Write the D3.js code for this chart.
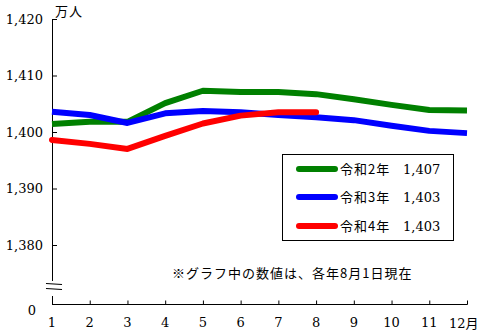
<!DOCTYPE html>
<html>
<head>
<meta charset="utf-8">
<script src="https://cdn.jsdelivr.net/npm/d3@7"></script>
<style>
  html, body { margin: 0; padding: 0; background: #fff; }
  svg { display: block; }
  text { font-family: "Noto Sans CJK JP", "DejaVu Sans", sans-serif; fill: #000; }
  text.num { font-family: "DejaVu Serif", "Liberation Serif", serif; }
</style>
</head>
<body>
<svg id="chart" width="484" height="333"></svg>
<script>
// Monthly population (万人), months 1–12
const months = [1, 2, 3, 4, 5, 6, 7, 8, 9, 10, 11, 12];
const reiwa2 = [1401.4, 1401.8, 1401.8, 1405.1, 1407.3, 1407.1, 1407.1, 1406.7, 1405.8, 1404.8, 1403.9, 1403.8];
const reiwa3 = [1403.6, 1403.0, 1401.6, 1403.3, 1403.7, 1403.5, 1403.0, 1402.6, 1402.1, 1401.1, 1400.2, 1399.8];
const reiwa4 = [1398.6, 1397.9, 1397.0, 1399.3, 1401.5, 1402.9, 1403.5, 1403.5];
const yTicks = [1380, 1390, 1400, 1410, 1420];
const seriesNames = ["令和2年", "令和3年", "令和4年"];
const seriesLabels = ["1,407", "1,403", "1,403"];
const seriesColors = ["#008000", "#0000ff", "#ff0000"];

const svg = d3.select("#chart");
const x = d3.scaleLinear().domain([1, 12]).range([52, 467]);
const y = d3.scaleLinear().domain([1380, 1420]).range([245, 19]);
const axisY0 = 304;

// Y axis (upper part), ticks pointing inward
const yAxis = d3.axisRight(y).tickValues(yTicks).tickSize(5).tickFormat("");
const gy = svg.append("g").attr("transform", "translate(52,0)").call(yAxis);
gy.select(".domain").remove();
gy.selectAll("line").attr("stroke", "#000");
svg.append("line").attr("x1", 52.5).attr("x2", 52.5).attr("y1", 19).attr("y2", 281).attr("stroke", "#000");
svg.append("line").attr("x1", 52.5).attr("x2", 52.5).attr("y1", 296).attr("y2", axisY0).attr("stroke", "#000");
// axis break mark
[284, 289].forEach(yy => {
  svg.append("line").attr("x1", 46).attr("x2", 62).attr("y1", yy - 0.5).attr("y2", yy + 0.5)
    .attr("stroke", "#000").attr("stroke-width", 1.2);
});

const fmt = d3.format(",");
svg.selectAll(".ylab").data(yTicks).enter().append("text").attr("class", "num")
  .attr("x", 43).attr("y", d => y(d)).attr("dy", "0.35em")
  .attr("text-anchor", "end").attr("font-size", 13).text(d => fmt(d));
svg.append("text").attr("class", "num").attr("x", 36).attr("y", 310).attr("dy", "0.35em")
  .attr("text-anchor", "end").attr("font-size", 13).text("0");
svg.append("text").attr("x", 55).attr("y", 16).attr("font-size", 13)
  .attr("letter-spacing", 1).text("万人");

// X axis
const xAxis = d3.axisTop(x).tickValues(months).tickSize(4).tickFormat("");
const gx = svg.append("g").attr("transform", `translate(0,${axisY0 + 0.5})`).call(xAxis);
gx.select(".domain").remove();
gx.selectAll("line").attr("stroke", "#000");
svg.append("line").attr("x1", 52).attr("x2", 467.5).attr("y1", axisY0 + 0.5).attr("y2", axisY0 + 0.5).attr("stroke", "#000");
svg.selectAll(".xlab").data(months.slice(0, 11)).enter().append("text").attr("class", "num")
  .attr("x", d => x(d)).attr("y", 322).attr("dy", "0.35em")
  .attr("text-anchor", "middle").attr("font-size", 13).text(d => d);
const lastLab = svg.append("text").attr("x", 449).attr("y", 323).attr("dy", "0.35em").attr("font-size", 13);
lastLab.append("tspan").attr("class", "num").attr("font-family", "DejaVu Serif").text("12");
lastLab.append("tspan").text("月");

// Lines
const line = d3.line().x((d, i) => x(months[i])).y(d => y(d));
[reiwa2, reiwa3, reiwa4].forEach((vals, k) => {
  svg.append("path").datum(vals).attr("d", line)
    .attr("fill", "none").attr("stroke", seriesColors[k])
    .attr("stroke-width", 6).attr("stroke-linejoin", "round")
    .attr("stroke-linecap", k === 2 ? "round" : "butt");
});

// Legend
const lg = svg.append("g");
lg.append("rect").attr("x", 282.5).attr("y", 154.5).attr("width", 171).attr("height", 86)
  .attr("fill", "#fff").attr("stroke", "#000");
const legendY = [169, 197, 226];
seriesNames.forEach((name, k) => {
  lg.append("line").attr("x1", 299).attr("x2", 335).attr("y1", legendY[k]).attr("y2", legendY[k])
    .attr("stroke", seriesColors[k]).attr("stroke-width", 6).attr("stroke-linecap", "round");
  lg.append("text").attr("x", 340).attr("y", legendY[k]).attr("dy", "0.35em")
    .attr("font-size", 13).attr("letter-spacing", 1).text(name);
  lg.append("text").attr("class", "num").attr("x", 403).attr("y", legendY[k]).attr("dy", "0.35em")
    .attr("font-size", 13).text(seriesLabels[k]);
});

// Note
svg.append("text").attr("x", 172).attr("y", 273).attr("dy", "0.35em")
  .attr("font-size", 13).attr("letter-spacing", 1).text("※グラフ中の数値は、各年8月1日現在");
</script>
</body>
</html>
